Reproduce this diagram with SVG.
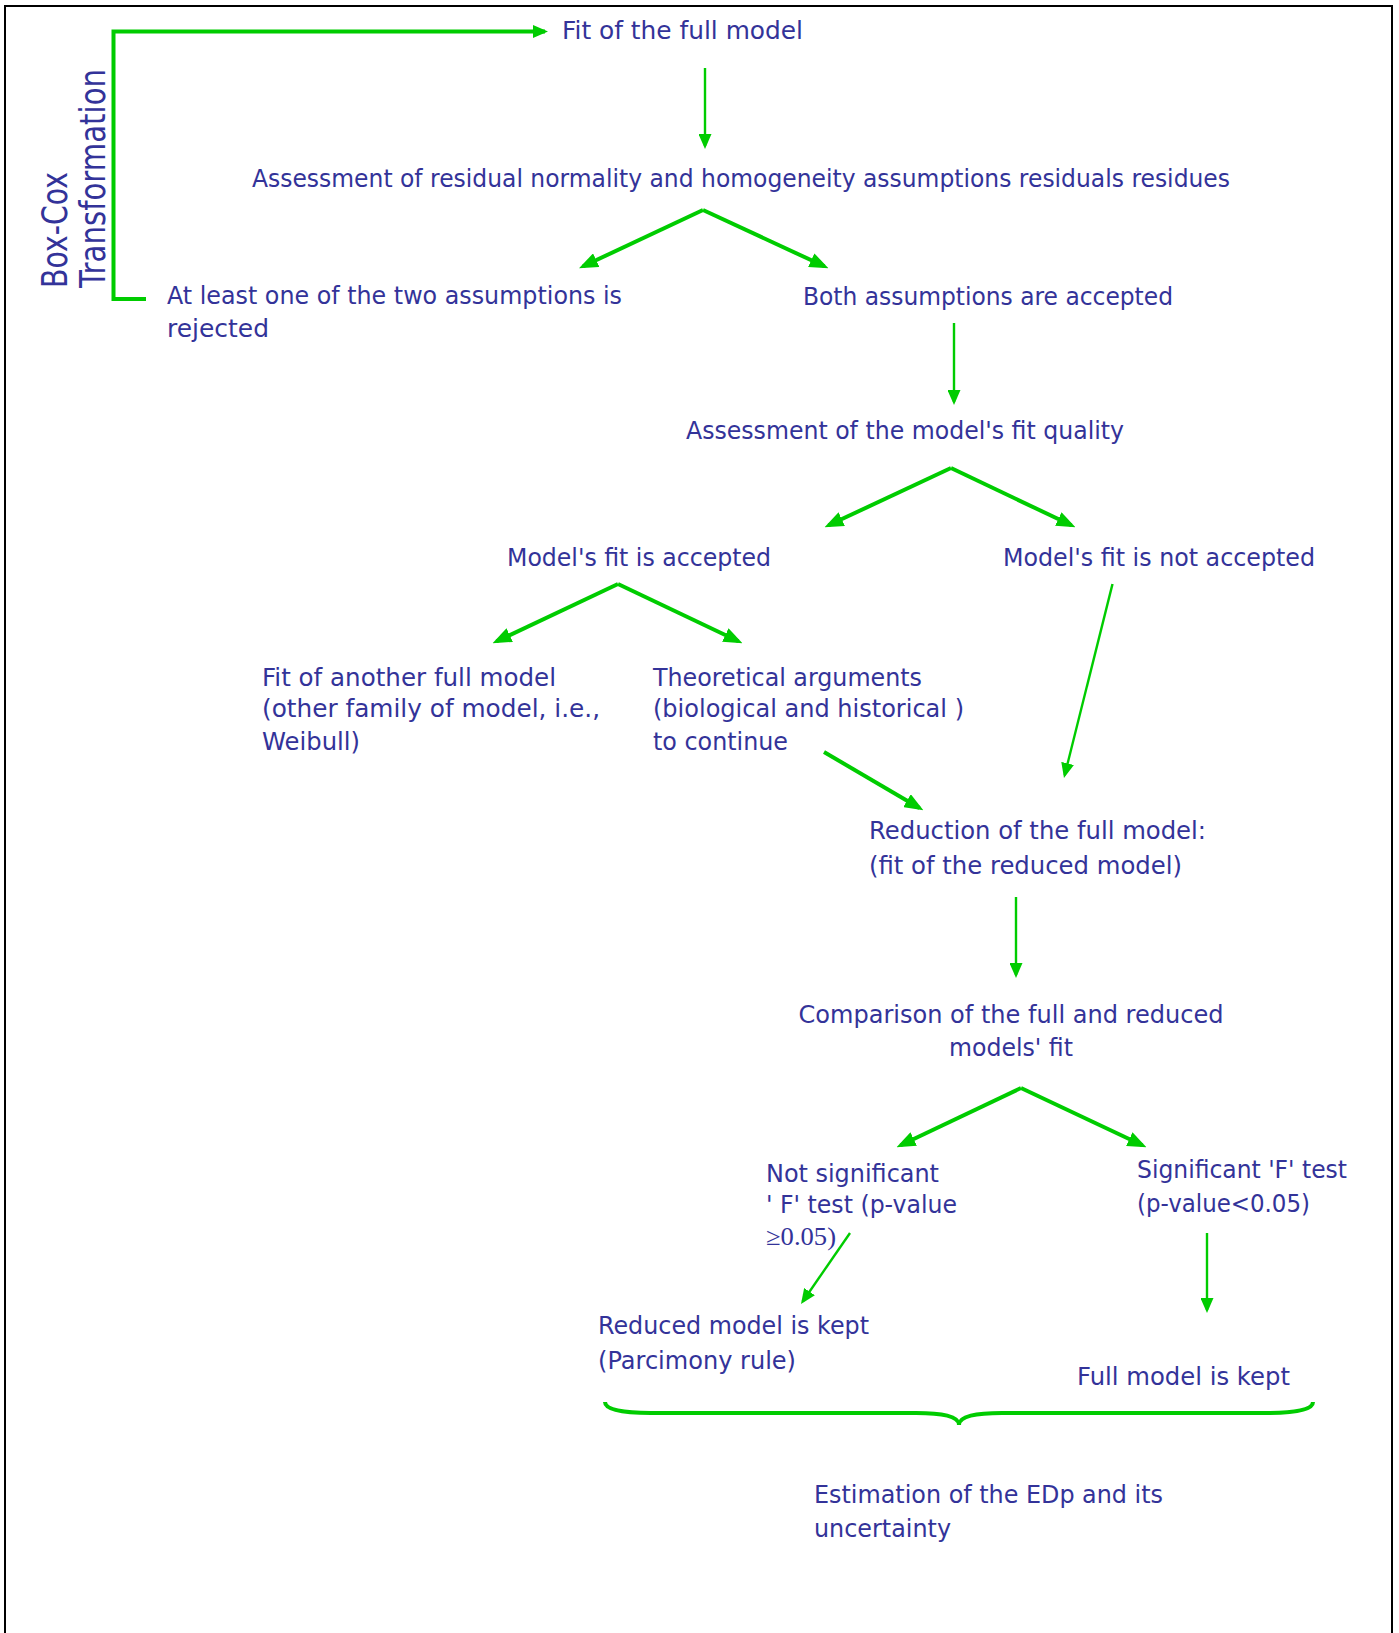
<svg xmlns="http://www.w3.org/2000/svg" width="1399" height="1633" viewBox="0 0 1399 1633">
<style>
.t{font-family:"DejaVu Sans","Verdana",sans-serif;font-size:24.5px;fill:#333399}
.s{font-family:"Liberation Serif","Times New Roman",serif;font-size:25px;fill:#333399}
.r{font-family:"DejaVu Sans","Verdana",sans-serif;font-size:35px;fill:#333399}
.k{fill:none;stroke:#00cc00;stroke-width:4}
.n{fill:none;stroke:#00cc00;stroke-width:2.4}
</style>
<defs>
<marker id="ahT" markerUnits="userSpaceOnUse" markerWidth="19" markerHeight="15" refX="14.5" refY="7.5" orient="auto"><path d="M0,0 L19,7.5 L0,15 z" fill="#00cc00"/></marker>
<marker id="ahS" markerUnits="userSpaceOnUse" markerWidth="15" markerHeight="13" refX="12" refY="6.5" orient="auto"><path d="M0,0 L15,6.5 L0,13 z" fill="#00cc00"/></marker>
</defs>
<rect x="5" y="6" width="1387" height="1640" fill="#ffffff" stroke="#000000" stroke-width="2"/>
<g id="connectors">
<polyline class="k" points="146,299 113.5,299 113.5,31.5 545,31.5" marker-end="url(#ahS)"/>
<line class="n" x1="705" y1="68" x2="705" y2="146" marker-end="url(#ahS)"/>
<line class="k" x1="703" y1="210" x2="583.1" y2="266.3" marker-end="url(#ahT)"/>
<line class="k" x1="703" y1="210" x2="824.4" y2="266.3" marker-end="url(#ahT)"/>
<line class="n" x1="954" y1="323" x2="954" y2="402" marker-end="url(#ahS)"/>
<line class="k" x1="951" y1="468" x2="828.6" y2="525.3" marker-end="url(#ahT)"/>
<line class="k" x1="951" y1="468" x2="1071.4" y2="525.3" marker-end="url(#ahT)"/>
<line class="k" x1="618" y1="584" x2="496.6" y2="641.3" marker-end="url(#ahT)"/>
<line class="k" x1="618" y1="584" x2="738.4" y2="641.3" marker-end="url(#ahT)"/>
<line class="k" x1="824" y1="752" x2="919.5" y2="808" marker-end="url(#ahT)"/>
<line class="n" x1="1112.5" y1="584" x2="1064.7" y2="775.1" marker-end="url(#ahS)"/>
<line class="n" x1="1016" y1="897" x2="1016" y2="975" marker-end="url(#ahS)"/>
<line class="k" x1="1021" y1="1088" x2="900.6" y2="1145.3" marker-end="url(#ahT)"/>
<line class="k" x1="1021" y1="1088" x2="1142.4" y2="1145.3" marker-end="url(#ahT)"/>
<line class="n" x1="850" y1="1233" x2="802.7" y2="1301.5" marker-end="url(#ahS)"/>
<line class="n" x1="1207" y1="1233" x2="1207" y2="1310" marker-end="url(#ahS)"/>
<path class="k" d="M605,1402 C605,1410 624,1413 651,1413 L916,1413 C942,1413 959,1416 959,1425 C959,1416 976,1413 1002,1413 L1268,1413 C1294,1413 1313,1410 1313,1402"/>
</g>
<g id="boxcox">
<text class="r" transform="translate(67,288) rotate(-90)" textLength="116" lengthAdjust="spacingAndGlyphs">Box-Cox</text>
<text class="r" transform="translate(105,288) rotate(-90)" textLength="219" lengthAdjust="spacingAndGlyphs">Transformation</text>
</g>
<g id="n1"><text class="t" x="562" y="39" textLength="241" lengthAdjust="spacingAndGlyphs">Fit of the full model</text></g>
<g id="n2"><text class="t" x="252" y="187" textLength="978" lengthAdjust="spacingAndGlyphs">Assessment of residual normality and homogeneity assumptions residuals residues</text></g>
<g id="n3"><text class="t" x="167" y="304" textLength="455" lengthAdjust="spacingAndGlyphs">At least one of the two assumptions is</text><text class="t" x="167" y="337" textLength="102" lengthAdjust="spacingAndGlyphs">rejected</text></g>
<g id="n4"><text class="t" x="803" y="305" textLength="370" lengthAdjust="spacingAndGlyphs">Both assumptions are accepted</text></g>
<g id="n5"><text class="t" x="686" y="439" textLength="438" lengthAdjust="spacingAndGlyphs">Assessment of the model's fit quality</text></g>
<g id="n6"><text class="t" x="507" y="566" textLength="264" lengthAdjust="spacingAndGlyphs">Model's fit is accepted</text></g>
<g id="n7"><text class="t" x="1003" y="566" textLength="312" lengthAdjust="spacingAndGlyphs">Model's fit is not accepted</text></g>
<g id="n8"><text class="t" x="262" y="686" textLength="294" lengthAdjust="spacingAndGlyphs">Fit of another full model</text><text class="t" x="262" y="717" textLength="338" lengthAdjust="spacingAndGlyphs">(other family of model, i.e.,</text><text class="t" x="262" y="750" textLength="98" lengthAdjust="spacingAndGlyphs">Weibull)</text></g>
<g id="n9"><text class="t" x="653" y="686" textLength="269" lengthAdjust="spacingAndGlyphs">Theoretical arguments</text><text class="t" x="653" y="717" textLength="311" lengthAdjust="spacingAndGlyphs">(biological and historical )</text><text class="t" x="653" y="750" textLength="135" lengthAdjust="spacingAndGlyphs">to continue</text></g>
<g id="n10"><text class="t" x="869" y="839" textLength="337" lengthAdjust="spacingAndGlyphs">Reduction of the full model:</text><text class="t" x="869" y="874" textLength="313" lengthAdjust="spacingAndGlyphs">(fit of the reduced model)</text></g>
<g id="n11"><text class="t" x="1011" y="1023" text-anchor="middle" textLength="425" lengthAdjust="spacingAndGlyphs">Comparison of the full and reduced</text><text class="t" x="1011" y="1056" text-anchor="middle" textLength="124" lengthAdjust="spacingAndGlyphs">models' fit</text></g>
<g id="n12"><text class="t" x="766" y="1182" textLength="173" lengthAdjust="spacingAndGlyphs">Not significant</text><text class="t" x="766" y="1213" textLength="191" lengthAdjust="spacingAndGlyphs">' F' test (p-value</text><text class="s" x="766" y="1245" textLength="70" lengthAdjust="spacingAndGlyphs">≥0.05)</text></g>
<g id="n13"><text class="t" x="1137" y="1178" textLength="210" lengthAdjust="spacingAndGlyphs">Significant 'F' test</text><text class="t" x="1137" y="1212" textLength="173" lengthAdjust="spacingAndGlyphs">(p-value&lt;0.05)</text></g>
<g id="n14"><text class="t" x="598" y="1334" textLength="271" lengthAdjust="spacingAndGlyphs">Reduced model is kept</text><text class="t" x="598" y="1369" textLength="198" lengthAdjust="spacingAndGlyphs">(Parcimony rule)</text></g>
<g id="n15"><text class="t" x="1077" y="1385" textLength="213" lengthAdjust="spacingAndGlyphs">Full model is kept</text></g>
<g id="n16"><text class="t" x="814" y="1503" textLength="349" lengthAdjust="spacingAndGlyphs">Estimation of the EDp and its</text><text class="t" x="814" y="1537" textLength="137" lengthAdjust="spacingAndGlyphs">uncertainty</text></g>
</svg>
